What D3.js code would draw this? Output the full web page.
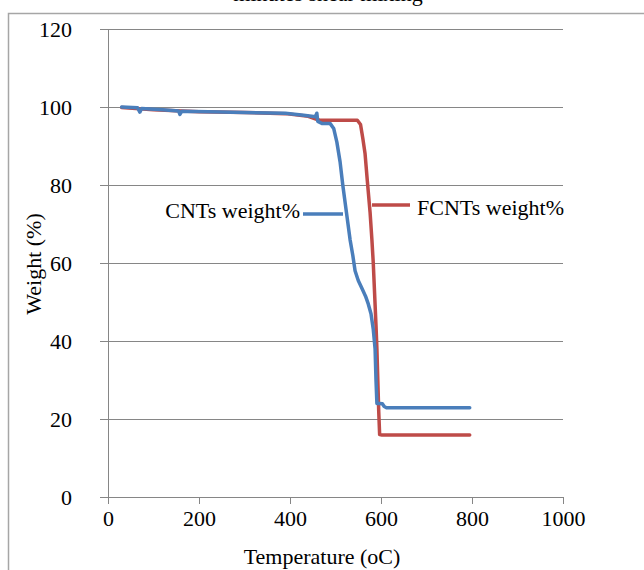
<!DOCTYPE html>
<html>
<head>
<meta charset="utf-8">
<script src="https://cdnjs.cloudflare.com/ajax/libs/d3/7.8.5/d3.min.js"></script>
<style>
  body { margin: 0; background: #fff; }
  .axis text { font-family: "Times New Roman", "Liberation Serif", "DejaVu Serif", serif; font-size: 22px; fill: #000; }
  .axis path, .axis line { stroke: #868686; }
  .grid line { stroke: #868686; stroke-width: 1; }
  .label { font-family: "Times New Roman", "Liberation Serif", "DejaVu Serif", serif; font-size: 22px; fill: #000; }
</style>
</head>
<body>
<div class="tgaChart"></div>
<script>
// x ticks / y ticks
var xTicks = [0, 200, 400, 600, 800, 1000];
var yTicks = [0, 20, 40, 60, 80, 100, 120];

// CNTs weight% : [temperature, weight]
var cntsTemp = [30, 65, 70, 74, 120, 155, 158, 162, 250, 390, 430, 456, 459, 461, 470, 488, 496, 503, 510, 516, 524, 532, 538, 543, 550, 558, 566, 572, 578, 583, 587, 589, 591, 597, 603, 607, 612, 700, 795];
var cntsWeight = [100, 99.8, 98.7, 99.6, 99.3, 99.0, 98.1, 98.9, 98.7, 98.4, 97.9, 97.5, 98.4, 96.3, 95.8, 95.8, 94.5, 91, 86, 80, 73, 66, 62, 58, 55.5, 53.5, 51.5, 49.5, 47, 43, 38, 30, 24, 24, 23.9, 23.2, 22.9, 22.9, 22.9];

// FCNTs weight%
var fcntsTemp = [30, 100, 200, 300, 390, 440, 460, 465, 548, 555, 560, 565, 570, 576, 580, 583, 586, 589, 591, 593, 595, 597, 602, 795];
var fcntsWeight = [99.9, 99.3, 98.8, 98.6, 98.3, 97.6, 96.8, 96.6, 96.6, 95.5, 92, 88, 81, 73, 66, 60, 52, 44, 38, 30, 22, 16, 15.9, 15.9];

var seriesNames = ["CNTs weight%", "FCNTs weight%"];
var colors = ["#4A7EBB", "#BE4B48"];

function drawChart() {
    var margin = { top: 29, left: 108 };
    var width = 455, height = 468;

    var svg = d3.select(".tgaChart").append("svg")
        .attr("width", 644)
        .attr("height", 570);

    // outer frame (cropped from the source figure)
    svg.append("rect")
        .attr("x", 8.5).attr("y", 13.5)
        .attr("width", 700).attr("height", 600)
        .attr("fill", "none")
        .attr("stroke", "#a6a6a6")
        .attr("stroke-width", 1.5);

    // caption line, cut off at the top like in the source
    svg.append("text")
        .attr("class", "label")
        .attr("x", 328).attr("y", 1)
        .attr("text-anchor", "middle")
        .text("minutes shear mixing");

    var g = svg.append("g")
        .attr("transform", "translate(" + margin.left + "," + margin.top + ")");

    var scaleX = d3.scaleLinear().domain([0, 1000]).range([0, width]);
    var scaleY = d3.scaleLinear().domain([0, 120]).range([height, 0]);

    // horizontal gridlines
    g.append("g")
        .attr("class", "grid")
        .selectAll("line")
        .data(yTicks.slice(1))
        .enter().append("line")
        .attr("x1", 0).attr("x2", width)
        .attr("y1", function(d) { return Math.round(scaleY(d)) + 0.5; })
        .attr("y2", function(d) { return Math.round(scaleY(d)) + 0.5; });

    var xAxis = d3.axisBottom(scaleX).tickValues(xTicks).tickFormat(d3.format("d"))
        .tickSize(7).tickSizeOuter(0).tickPadding(6);
    var yAxis = d3.axisLeft(scaleY).tickValues(yTicks).tickFormat(d3.format("d"))
        .tickSize(8).tickSizeOuter(0).tickPadding(28);

    g.append("g")
        .attr("class", "x axis")
        .attr("transform", "translate(0," + height + ")")
        .call(xAxis);

    g.append("g")
        .attr("class", "y axis")
        .call(yAxis);

    var valueline = d3.line()
        .x(function(d) { return scaleX(d[0]); })
        .y(function(d) { return scaleY(d[1]); });

    var series = [d3.zip(cntsTemp, cntsWeight), d3.zip(fcntsTemp, fcntsWeight)];

    // red first so the blue line sits on top
    [1, 0].forEach(function(i) {
        g.append("path")
            .attr("d", valueline(series[i]))
            .attr("fill", "none")
            .attr("stroke", colors[i])
            .attr("stroke-width", 3.5)
            .attr("stroke-linejoin", "round")
            .attr("stroke-linecap", "round");
    });

    // data labels with leader lines
    var labelPos = [
        { x: 300, y: 218, lx1: 303, lx2: 343, ly: 214, anchor: "end" },
        { x: 417, y: 215, lx1: 372, lx2: 410, ly: 205, anchor: "start" }
    ];
    labelPos.forEach(function(p, i) {
        svg.append("line")
            .attr("x1", p.lx1).attr("x2", p.lx2)
            .attr("y1", p.ly).attr("y2", p.ly)
            .attr("stroke", colors[i])
            .attr("stroke-width", 3.5);
        svg.append("text")
            .attr("class", "label")
            .attr("x", p.x).attr("y", p.y)
            .attr("text-anchor", p.anchor)
            .text(seriesNames[i]);
    });

    // axis titles
    svg.append("text")
        .attr("class", "label")
        .attr("x", 322).attr("y", 564)
        .attr("text-anchor", "middle")
        .text("Temperature (oC)");

    svg.append("text")
        .attr("class", "label")
        .attr("transform", "translate(41,264) rotate(-90)")
        .attr("text-anchor", "middle")
        .text("Weight (%)");
}
drawChart();
</script>
</body>
</html>
